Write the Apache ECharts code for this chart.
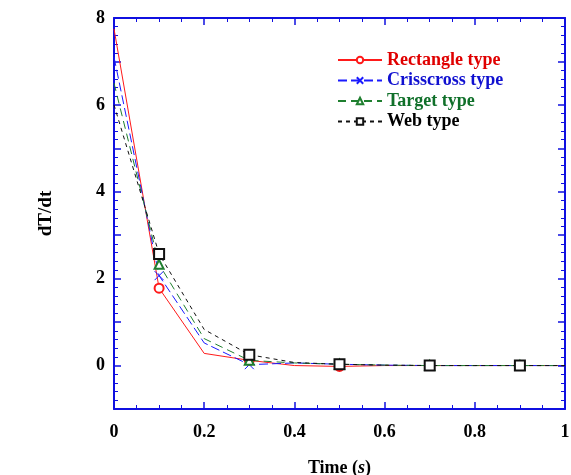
<!DOCTYPE html>
<html>
<head>
<meta charset="utf-8">
<script src="https://cdn.jsdelivr.net/npm/echarts@6/dist/echarts.min.js"></script>
<style>html,body{margin:0;padding:0;background:#fff;}#c{width:571px;height:475px;}</style>
</head>
<body>
<div id="c"></div>
<script>
const times = [0, 0.1, 0.2, 0.3, 0.4, 0.5, 0.6, 0.7, 0.8, 0.9, 1.0];
const rectangle = [7.75, 1.78, 0.28, 0.12, 0.0, -0.02, 0, 0, 0, 0, 0];
const crisscross = [7.1, 2.07, 0.52, 0.02, 0.06, 0.03, 0.01, 0, 0, 0, 0];
const target = [6.5, 2.33, 0.62, 0.12, 0.06, 0.03, 0.01, 0, 0, 0, 0];
const web = [6.0, 2.57, 0.83, 0.25, 0.07, 0.03, 0.01, 0, 0, 0, 0];
const seriesNames = ['Rectangle type', 'Crisscross type', 'Target type', 'Web type'];
const yTickLabels = [0, 2, 4, 6, 8];

const AX = '#1010e0';
const FONT = 'Liberation Serif';
const pairs = v => times.map((t, i) => [t, v[i]]);
const symSize = s => (val, p) => (p && p.dataIndex % 2 === 1 ? s : 0);

function frameAxis(extra) {
  return Object.assign({
    axisLine: { show: true, onZero: false, lineStyle: { color: AX, width: 2 } },
    axisTick: { show: true, inside: true, length: 7, lineStyle: { color: AX, width: 1.5 } },
    splitLine: { show: false },
  }, extra);
}

const colors = ['#ff1a1a', '#1a1aff', '#1f7f2f', '#111111'];
const textColors = ['#e00000', '#1010d0', '#10702a', '#000000'];
const symbols = ['emptyCircle', 'path://M0,0L10,10M10,0L0,10', 'emptyTriangle', 'emptyRect'];
const dashes = ['solid', [9, 4], [8, 5], [4, 4]];
const values = [rectangle, crisscross, target, web];

const chart = echarts.init(document.getElementById('c'));
chart.setOption({
  animation: false,
  backgroundColor: '#fff',
  grid: { left: 114, right: 6, top: 18, bottom: 66, containLabel: false, outerBoundsMode: 'none' },
  legend: {
    orient: 'vertical', left: 337, top: 51, padding: 0, itemWidth: 44, itemHeight: 8, itemGap: 2.5,
    textStyle: { fontFamily: FONT, fontWeight: 'bold', fontSize: 18 },
    data: seriesNames.map((n, i) => ({ name: n, textStyle: { color: textColors[i] } }))
  },
  xAxis: [
    frameAxis({
      type: 'value', min: 0, max: 1, interval: 0.2,
      minorTick: { show: true, splitNumber: 4, length: 4, lineStyle: { color: AX, width: 1 } },
      axisLabel: { fontFamily: FONT, fontWeight: 'bold', fontSize: 18, color: '#000', margin: 14, formatter: v => String(Math.round(v * 10) / 10) },
      name: '{a|Time (}{b|s}{a|)}', nameLocation: 'middle', nameGap: 50,
      nameTextStyle: { rich: { a: { fontFamily: FONT, fontWeight: 'bold', fontSize: 18, color: '#000' }, b: { fontFamily: FONT, fontWeight: 'bold', fontStyle: 'italic', fontSize: 18, color: '#000' } } }
    }),
    frameAxis({
      type: 'value', position: 'top', min: 0, max: 1, interval: 0.2,
      minorTick: { show: true, splitNumber: 4, length: 4, lineStyle: { color: AX, width: 1 } },
      axisLabel: { show: false }
    })
  ],
  yAxis: [
    frameAxis({
      type: 'value', min: -1, max: 8, interval: 1,
      minorTick: { show: true, splitNumber: 5, length: 4, lineStyle: { color: AX, width: 1 } },
      axisLabel: { fontFamily: FONT, fontWeight: 'bold', fontSize: 18, color: '#000', margin: 9,
        formatter: v => (yTickLabels.indexOf(v) >= 0 ? String(v) : '') },
      name: 'dT/dt', nameLocation: 'middle', nameGap: 58,
      nameTextStyle: { fontFamily: FONT, fontWeight: 'bold', fontSize: 19, color: '#000' }
    }),
    frameAxis({
      type: 'value', position: 'right', min: -1, max: 8, interval: 1,
      minorTick: { show: true, splitNumber: 5, length: 4, lineStyle: { color: AX, width: 1 } },
      axisLabel: { show: false }
    })
  ],
  series: seriesNames.map((n, i) => ({
    name: n, type: 'line', data: pairs(values[i]),
    symbol: symbols[i], symbolSize: symSize(i === 3 ? 10 : 9),
    showAllSymbol: true,
    lineStyle: { color: colors[i], width: 1, type: dashes[i] },
    itemStyle: { color: colors[i], borderColor: colors[i], borderWidth: 1 },
    emphasis: { disabled: true },
    z: 2 + i
  }))
});
</script>
</body>
</html>
